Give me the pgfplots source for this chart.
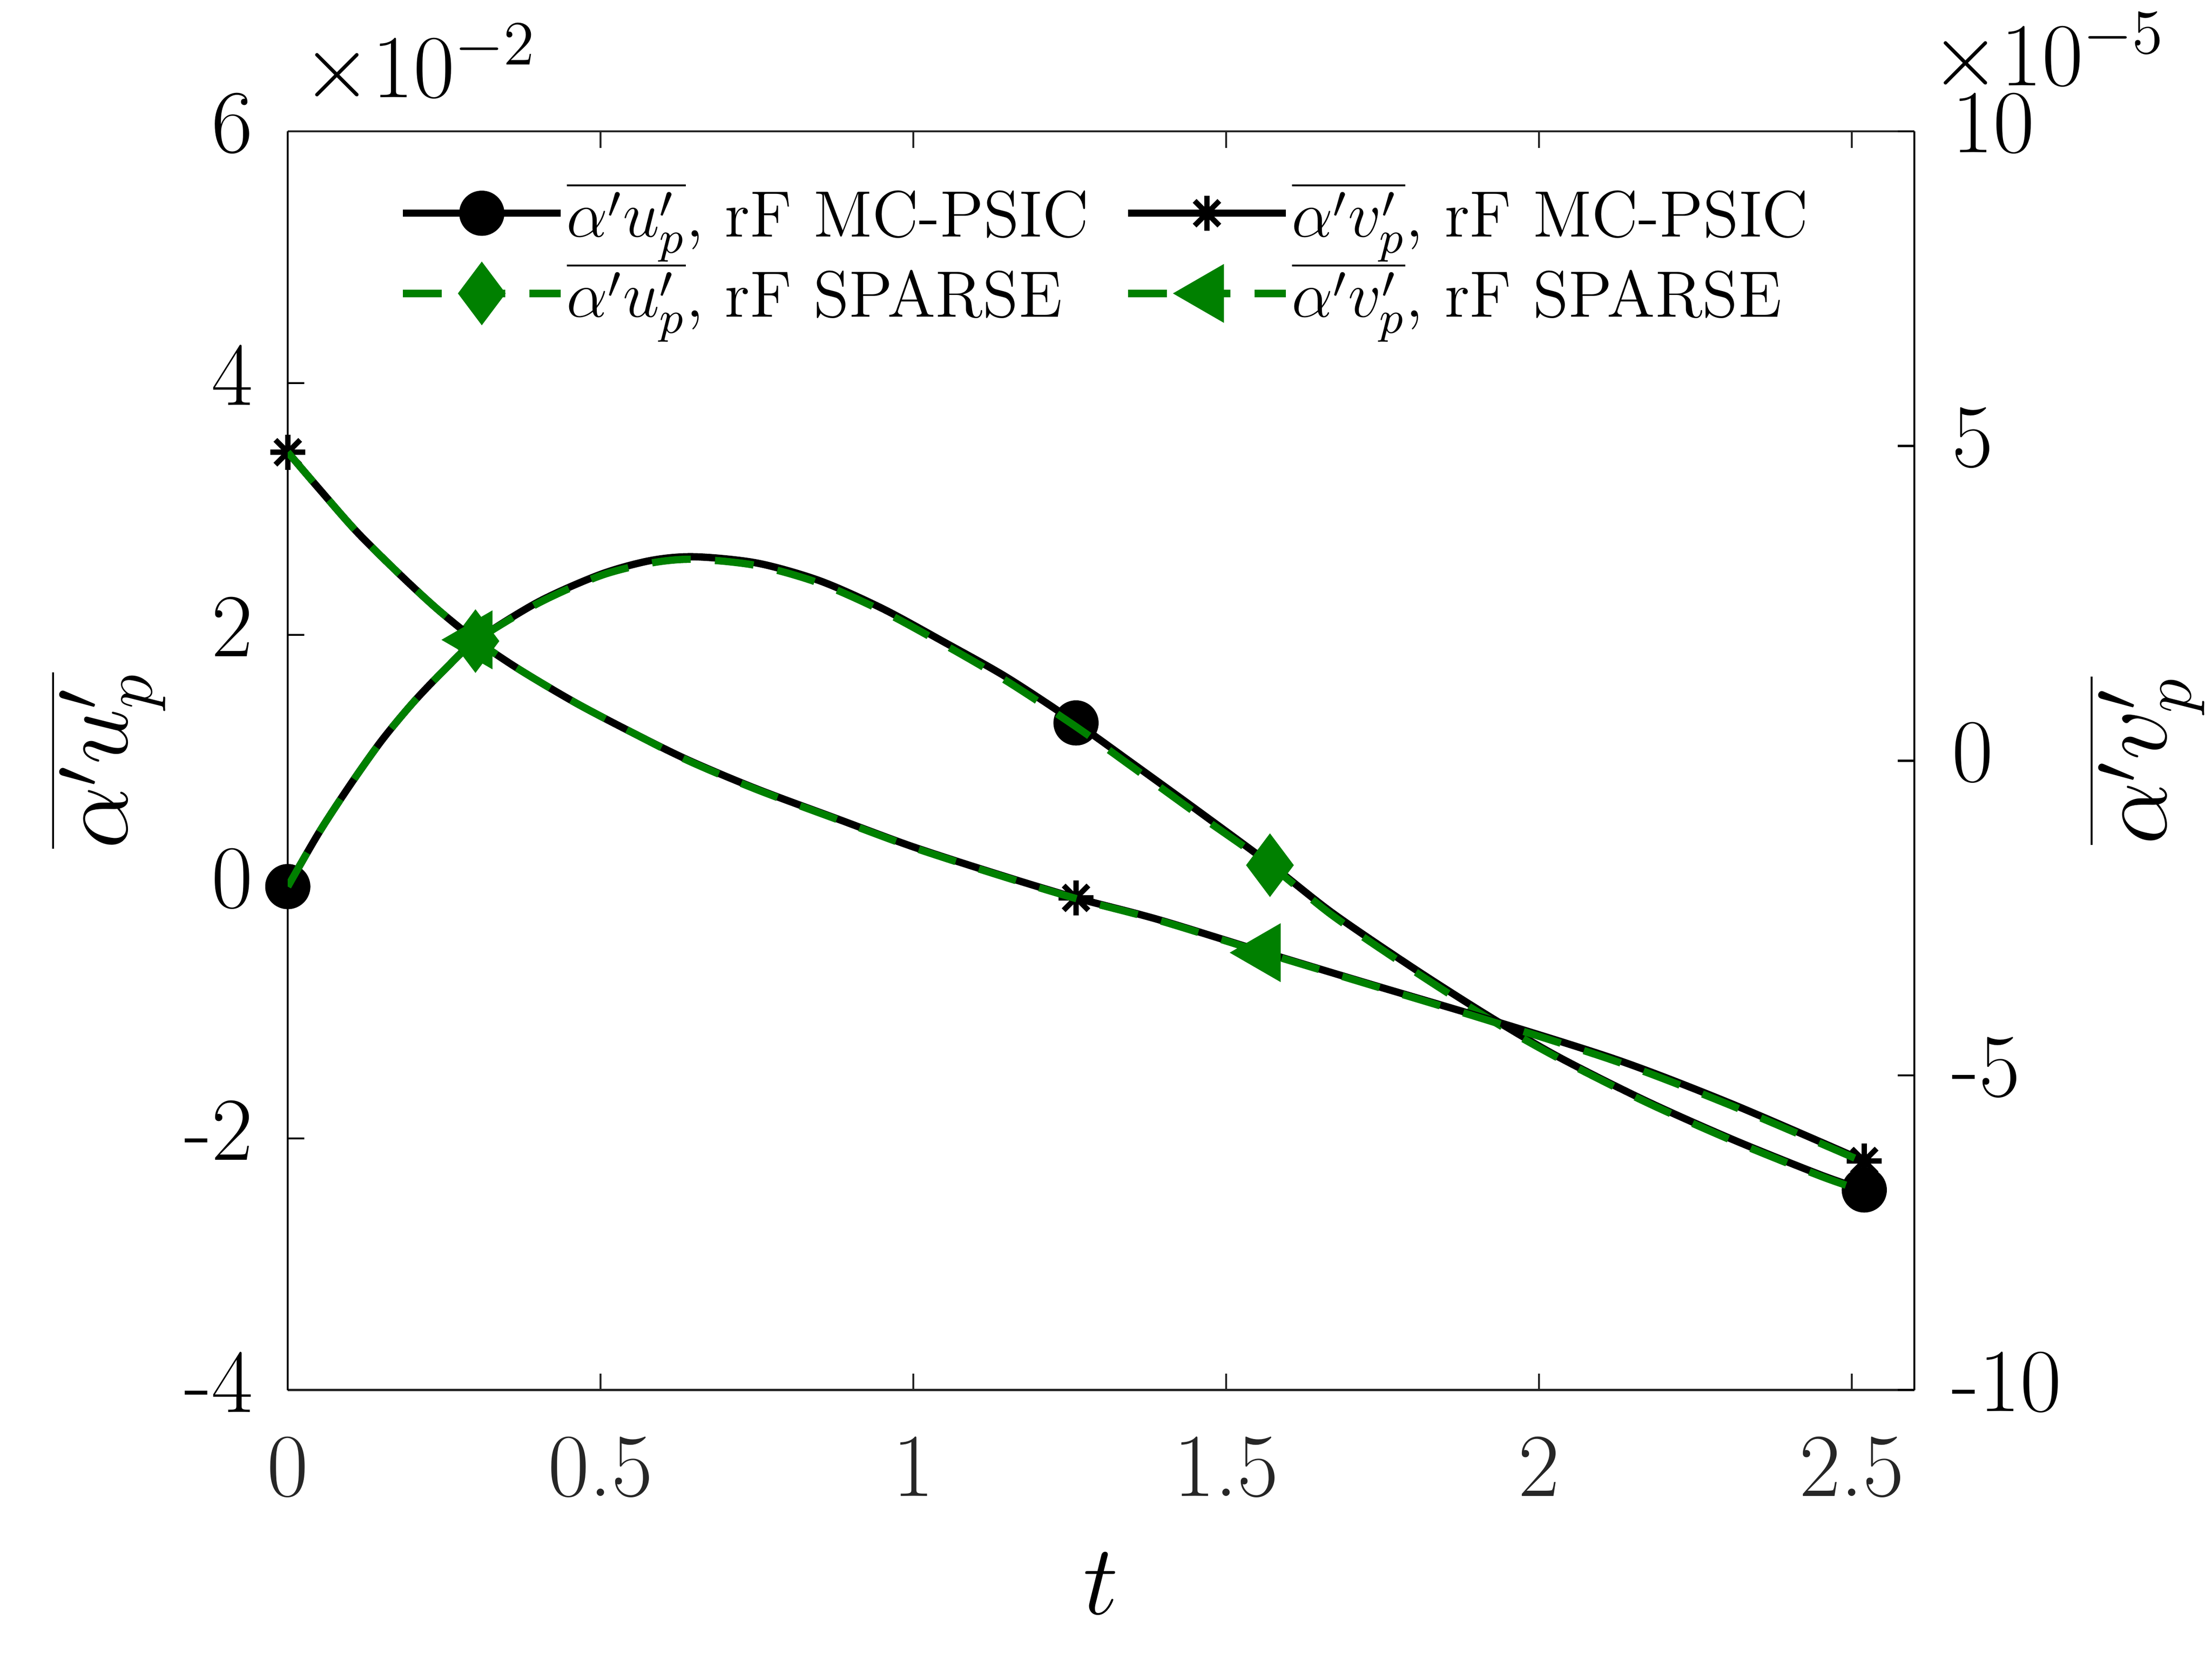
\documentclass[border=0pt]{standalone}
\usepackage{fix-cm}
\usepackage{pgfplots}
\pgfplotsset{compat=1.18}
\usepackage{pgfplotstable}
\definecolor{mgreen}{rgb}{0,0.5,0}
\pgfdeclareplotmark{mstar}{%
  \pgfpathmoveto{\pgfqpoint{0pt}{\pgfplotmarksize}}\pgfpathlineto{\pgfqpoint{0pt}{-\pgfplotmarksize}}%
  \pgfpathmoveto{\pgfqpoint{\pgfplotmarksize}{0pt}}\pgfpathlineto{\pgfqpoint{-\pgfplotmarksize}{0pt}}%
  \pgfpathmoveto{\pgfqpoint{0.7071\pgfplotmarksize}{0.7071\pgfplotmarksize}}\pgfpathlineto{\pgfqpoint{-0.7071\pgfplotmarksize}{-0.7071\pgfplotmarksize}}%
  \pgfpathmoveto{\pgfqpoint{0.7071\pgfplotmarksize}{-0.7071\pgfplotmarksize}}\pgfpathlineto{\pgfqpoint{-0.7071\pgfplotmarksize}{0.7071\pgfplotmarksize}}%
  \pgfusepathqstroke}

\pgfplotstableread{
t u
0.00 0.00
0.05 0.43
0.10 0.81
0.15 1.16
0.20 1.46
0.25 1.72
0.30 1.95
0.40 2.26
0.50 2.48
0.58 2.59
0.65 2.62
0.75 2.57
0.85 2.43
0.95 2.21
1.05 1.94
1.15 1.66
1.26 1.30
1.35 0.98
1.45 0.62
1.57 0.18
1.67 -0.21
1.80 -0.65
1.92 -1.03
2.03 -1.35
2.17 -1.70
2.31 -2.01
2.45 -2.29
2.52 -2.41
}\uMC

\pgfplotstableread{
t u
0.00 0.00
0.05 0.43
0.10 0.81
0.15 1.16
0.20 1.46
0.25 1.72
0.30 1.95
0.40 2.25
0.50 2.47
0.58 2.57
0.65 2.60
0.75 2.55
0.85 2.41
0.95 2.19
1.05 1.92
1.15 1.63
1.26 1.27
1.35 0.95
1.45 0.59
1.57 0.17
1.67 -0.23
1.80 -0.67
1.92 -1.05
2.03 -1.36
2.17 -1.71
2.31 -2.02
2.45 -2.30
2.52 -2.42
}\uSP

\pgfplotstableread{
t v
0.00 4.90
0.05 4.32
0.11 3.64
0.18 2.95
0.24 2.40
0.30 1.92
0.37 1.45
0.46 0.92
0.55 0.45
0.64 0.01
0.75 -0.45
0.88 -0.93
1.00 -1.37
1.14 -1.82
1.26 -2.18
1.39 -2.52
1.56 -3.04
1.72 -3.52
1.92 -4.11
2.13 -4.77
2.31 -5.46
2.52 -6.36
}\vMC

\pgfplotstableread{
t v
0.00 4.90
0.05 4.32
0.11 3.64
0.18 2.95
0.24 2.40
0.30 1.92
0.37 1.45
0.46 0.92
0.55 0.45
0.64 0.00
0.75 -0.46
0.88 -0.94
1.00 -1.38
1.14 -1.83
1.26 -2.19
1.39 -2.53
1.56 -3.05
1.72 -3.53
1.92 -4.13
2.13 -4.80
2.31 -5.49
2.52 -6.38
}\vSP

\pgfplotsset{
  legend image code/.code={%
    \draw[#1,mark=none] (0cm,0cm) -- (1.14cm,0cm);
    \draw[#1,mark indices={1}] plot coordinates {(0.57cm,0cm)};
  },
  common/.style={
    scale only axis, width=11.765cm, height=9.102cm,
    at={(2.0816cm,1.949cm)}, anchor=south west,
    xmin=0, xmax=2.6,
    tick align=inside, major tick length=0.12cm,
    /pgf/number format/assume math mode=true,
    tick label style={font=\fontsize{18.5}{22}\selectfont},
    label style={font=\fontsize{20.5}{24}\selectfont},
    axis line style={line width=0.45pt},
    every tick/.style={line width=0.45pt},
    clip mode=individual,
  },
  mcu/.style={black, line width=1.5pt, smooth, mark=*, mark size=3.9pt, mark options={solid, fill=black}},
  spu/.style={mgreen, line width=1.5pt, smooth, dash pattern=on 8pt off 5pt, mark=diamond*, mark size=5.3pt, mark options={solid, fill=mgreen, draw=mgreen}},
  mcv/.style={black, line width=1.5pt, smooth, mark=mstar, mark size=3.6pt, mark options={solid, line width=1.1pt}},
  spv/.style={mgreen, line width=1.5pt, smooth, dash pattern=on 8pt off 5pt, mark=triangle*, mark size=5.5pt, mark options={solid, fill=mgreen, draw=mgreen, rotate=90}},
}

\begin{document}
\begin{tikzpicture}
\useasboundingbox (0,0) rectangle (16cm,12cm);
\begin{axis}[common,
  ymin=-4, ymax=6,
  axis y line*=left,
  xtick={0,0.5,1,1.5,2,2.5},
  ytick={-4,-2,0,2,4,6},
  xtick pos=both,
  x axis line style={black!85},
  xtick style={black!85},
  xticklabel style={black!85, inner sep=0pt, yshift=-0.33cm},
  yticklabel style={inner sep=0pt, xshift=-0.245cm, yshift=0.058cm},
  xlabel={$t$},
  xlabel style={at={(axis description cs:0.5,0)}, anchor=base, yshift=-1.622cm, inner sep=0pt},
  ylabel={$\overline{\alpha' u'_p}$},
  ylabel style={at={(axis description cs:-0.0746,0.5)}, anchor=south, inner sep=0pt},
]
\addplot[mcu, mark indices={1,17,28}] table[x=t,y=u] {\uMC};
\addplot[spu, mark indices={7,20}] table[x=t,y=u] {\uSP};
\end{axis}
\begin{axis}[common,
  ymin=-10, ymax=10,
  axis y line*=right, axis x line=none,
  ytick={-10,-5,0,5,10},
  yticklabel style={inner sep=0pt, xshift=0.265cm, yshift=0.058cm},
  ylabel={$\overline{\alpha' v'_p}$},
  ylabel style={at={(axis description cs:1.1067,0.5)}, anchor=north, inner sep=0pt},
  legend columns=2,
  legend cell align=left,
  legend style={font=\fontsize{13.5}{16}\selectfont, draw=none, fill=none,
    at={(axis description cs:0.068,0.962)}, anchor=north west, inner sep=0pt,
    nodes={inner sep=0.5pt}, row sep=0.1cm,
    /tikz/every even column/.append style={column sep=0.24cm}},
]
\addlegendimage{mcu}
\addlegendentry{$\overline{\alpha' u'_p}$, rF MC-PSIC}
\addplot[mcv, mark indices={1,15,22}] table[x=t,y=v] {\vMC};
\addlegendentry{$\overline{\alpha' v'_p}$, rF MC-PSIC}
\addlegendimage{spu}
\addlegendentry{$\overline{\alpha' u'_p}$, rF SPARSE}
\addplot[spv, mark indices={6,17}] table[x=t,y=v] {\vSP};
\addlegendentry{$\overline{\alpha' v'_p}$, rF SPARSE}
\end{axis}
\node[anchor=base west, inner sep=0pt, font=\fontsize{18.5}{22}\selectfont] at (2.18cm,11.296cm) {$\times10^{-2}$};
\node[anchor=base west, inner sep=0pt, font=\fontsize{18.5}{22}\selectfont] at (13.959cm,11.38cm) {$\times10^{-5}$};
\end{tikzpicture}
\end{document}
